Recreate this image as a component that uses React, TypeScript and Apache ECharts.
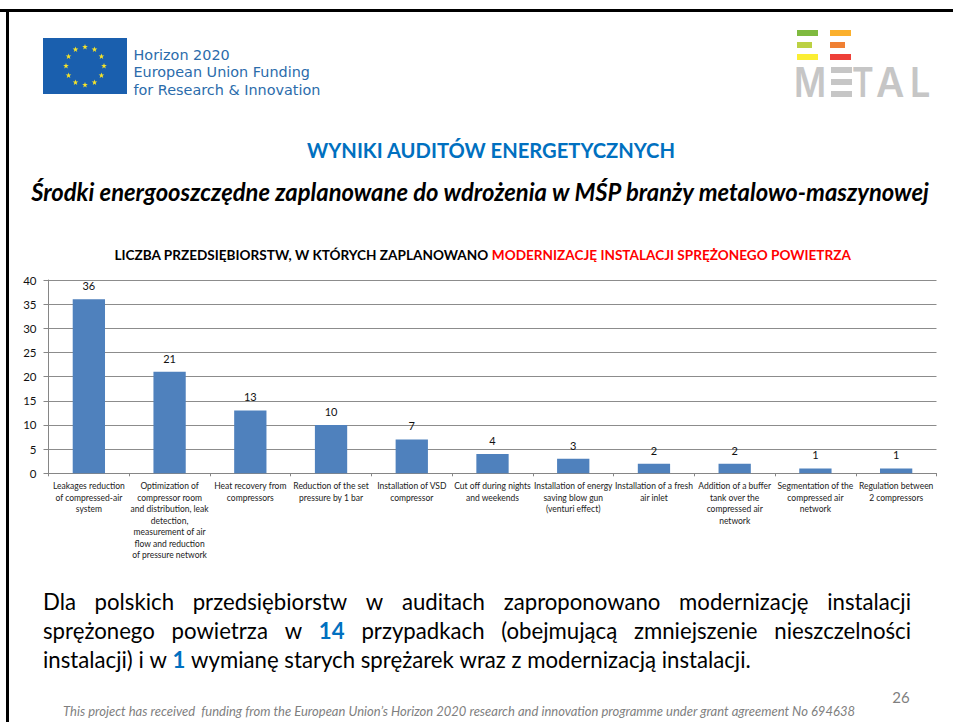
import React, { useEffect, useRef } from "react";
import * as echarts from "echarts";

const categories = [
  "Leakages reduction\nof compressed-air\nsystem",
  "Optimization of\ncompressor room\nand distribution, leak\ndetection,\nmeasurement of air\nflow and reduction\nof pressure network",
  "Heat recovery from\ncompressors",
  "Reduction of the set\npressure by 1 bar",
  "Installation of VSD\ncompressor",
  "Cut off during nights\nand weekends",
  "Installation of energy\nsaving blow gun\n(venturi effect)",
  "Installation of a fresh\nair inlet",
  "Addition of a buffer\ntank over the\ncompressed air\nnetwork",
  "Segmentation of the\ncompressed air\nnetwork",
  "Regulation between\n2 compressors",
];
const values = [36, 21, 13, 10, 7, 4, 3, 2, 2, 1, 1];
const yTicks = { min: 0, max: 40, interval: 5 };
const chartTitleBlack = "LICZBA PRZEDSIĘBIORSTW, W KTÓRYCH ZAPLANOWANO ";
const chartTitleRed = "MODERNIZACJĘ INSTALACJI SPRĘŻONEGO POWIETRZA";
const heading = "WYNIKI AUDITÓW ENERGETYCZNYCH";
const subheading = "Środki energooszczędne zaplanowane do wdrożenia w MŚP branży metalowo-maszynowej";
const bodyLines = [
  "Dla polskich przedsiębiorstw w auditach zaproponowano modernizację instalacji",
  "sprężonego powietrza w 14 przypadkach (obejmującą zmniejszenie nieszczelności",
  "instalacji) i w 1 wymianę starych sprężarek wraz z modernizacją instalacji.",
];
const highlighted = ["14", "1"];
const footer = "This project has received  funding from the European Union’s Horizon 2020 research and innovation programme under grant agreement No 694638";
const pageNumber = "26";
const flagLines = ["Horizon 2020", "European Union Funding", "for Research & Innovation"];

const FONT = "Lato, 'Open Sans', sans-serif";
const BODY_SIZE = 22.2;

const ctx = document.createElement("canvas").getContext("2d") as CanvasRenderingContext2D;
function widthOf(text: string, font: string) {
  ctx.font = font;
  return ctx.measureText(text).width;
}

function bodyWords() {
  const out: any[] = [];
  const left = 43;
  const right = 911;
  const ys = [601.5, 630.5, 659.5];
  bodyLines.forEach((line, i) => {
    const words = line.split(" ");
    const fontOf = (w: string) => `${highlighted.includes(w) ? "bold" : "normal"} ${BODY_SIZE}px Lato`;
    const widths = words.map((w) => widthOf(w, fontOf(w)));
    const total = widths.reduce((a, b) => a + b, 0);
    const space = i < 2 ? (right - left - total) / (words.length - 1) : widthOf(" ", fontOf("a"));
    let x = left;
    words.forEach((w, k) => {
      const hl = highlighted.includes(w);
      out.push({
        type: "text", x, y: ys[i],
        style: {
          text: w, fontFamily: FONT, fontSize: BODY_SIZE, fontWeight: hl ? "bold" : "normal",
          fill: hl ? "#0070c0" : "#000", verticalAlign: "middle",
        },
      });
      x += widths[k] + space;
    });
  });
  return out;
}

function starPoints(cx: number, cy: number, r: number) {
  const pts: number[][] = [];
  for (let i = 0; i < 10; i++) {
    const a = -Math.PI / 2 + (i * Math.PI) / 5;
    const d = i % 2 === 0 ? r : r * 0.4;
    pts.push([cx + d * Math.cos(a), cy + d * Math.sin(a)]);
  }
  return pts;
}

function flag() {
  const out: any[] = [
    { type: "rect", shape: { x: 43, y: 38, width: 84, height: 56 }, style: { fill: "#1a5fae" } },
  ];
  for (let i = 0; i < 12; i++) {
    const a = (i * Math.PI) / 6;
    out.push({
      type: "polygon",
      shape: { points: starPoints(85 + 19 * Math.sin(a), 66 - 19 * Math.cos(a), 3) },
      style: { fill: "#f5e32a" },
    });
  }
  out.push({
    type: "text", x: 133.5, y: 72.3,
    style: {
      text: flagLines.join("\n"), fontFamily: "'DejaVu Sans'", fontSize: 14.4, lineHeight: 17.3,
      fill: "#2b6cab", verticalAlign: "middle",
    },
  });
  return out;
}

function metalLogo() {
  const bars = [
    [797, 30, 21, "#7fba3f"], [830, 30, 21, "#fbb02d"],
    [797, 42, 15, "#bcd143"], [830, 42, 15, "#f08033"],
    [797, 54, 21, "#fbee33"], [830, 54, 21, "#ee4039"],
  ] as [number, number, number, string][];
  const out: any[] = bars.map(([x, y, width, fill]) => ({
    type: "rect", shape: { x, y, width, height: 6 }, style: { fill },
  }));
  [67, 79, 91].forEach((y) =>
    out.push({ type: "rect", shape: { x: 831, y, width: 21, height: 6 }, style: { fill: "#c6c6c6" } })
  );
  const letters: [string, number, number][] = [
    ["M", 794, 0.85], ["T", 852, 0.8], ["A", 876, 0.95], ["L", 910, 0.88],
  ];
  letters.forEach(([text, x, scaleX]) => {
    out.push({
      type: "text", x, y: 82, scaleX, originX: 0,
      style: { text, fontFamily: "Inter, Lato", fontSize: 41, fontWeight: 600, fill: "#c6c6c6", verticalAlign: "middle" },
    });
  });
  return out;
}

export default function App() {
  const ref = useRef<HTMLDivElement>(null);
  useEffect(() => {
    const chart = echarts.init(ref.current as HTMLDivElement, undefined, { renderer: "svg" });
    chart.setOption({
      animation: false,
      backgroundColor: "#fff",
      title: {
        text: `{b|${chartTitleBlack}}{r|${chartTitleRed}}`,
        left: 477.5, top: 243, textAlign: "center",
        textStyle: {
          rich: {
            b: { fontFamily: FONT, fontSize: 13.6, fontWeight: "bold", color: "#000" },
            r: { fontFamily: FONT, fontSize: 13.6, fontWeight: "bold", color: "#ff0000" },
          },
        },
      },
      grid: { left: 48.5, right: 16.5, top: 280, height: 193.3, containLabel: false },
      xAxis: {
        type: "category",
        data: categories,
        axisLine: { lineStyle: { color: "#868686", width: 1 } },
        axisTick: { show: true, alignWithLabel: false, length: 3, lineStyle: { color: "#868686" } },
        axisLabel: {
          interval: 0, fontFamily: FONT, fontSize: 8.5, color: "#222", lineHeight: 11.5, margin: 7,
          hideOverlap: false,
        },
      },
      yAxis: {
        type: "value",
        min: yTicks.min, max: yTicks.max, interval: yTicks.interval,
        axisLine: { show: true, lineStyle: { color: "#868686" } },
        axisTick: { show: true, length: 5, lineStyle: { color: "#868686" } },
        axisLabel: { fontFamily: FONT, fontSize: 11.5, color: "#111", margin: 12 },
        splitLine: { lineStyle: { color: "#8c8c8c", width: 1 } },
      },
      series: [
        {
          type: "bar",
          data: values,
          barWidth: "40%",
          itemStyle: { color: "#4f81bd" },
          label: { show: true, position: "top", fontFamily: FONT, fontSize: 11, color: "#111", distance: 8 },
        },
      ],
      graphic: [
        { type: "rect", shape: { x: 0, y: 9, width: 953, height: 3 }, style: { fill: "#000" } },
        { type: "rect", shape: { x: 6, y: 9, width: 3, height: 713 }, style: { fill: "#000" } },
        ...flag(),
        ...metalLogo(),
        {
          type: "text", x: 491, y: 150,
          style: { text: heading, fontFamily: FONT, fontSize: 20.2, fontWeight: "bold", fill: "#0070c0", align: "center", verticalAlign: "middle" },
        },
        {
          type: "text", x: 480, y: 192,
          style: { text: subheading, fontFamily: FONT, fontSize: 23.8, fontWeight: "bold", fontStyle: "italic", fill: "#000", align: "center", verticalAlign: "middle" },
        },
        ...bodyWords(),
        {
          type: "text", x: 459, y: 711,
          style: { text: footer, fontFamily: FONT, fontSize: 13, fontStyle: "italic", fill: "#7f7f7f", align: "center", verticalAlign: "middle" },
        },
        {
          type: "text", x: 901, y: 697,
          style: { text: pageNumber, fontFamily: FONT, fontSize: 15, fill: "#7f7f7f", align: "center", verticalAlign: "middle" },
        },
      ],
    });
    return () => chart.dispose();
  }, []);
  return <div ref={ref} style={{ position: "absolute", left: 0, top: 0, width: 953, height: 722 }} />;
}
